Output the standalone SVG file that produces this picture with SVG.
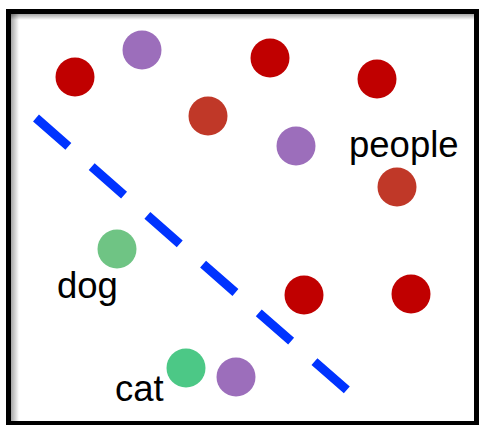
<svg xmlns="http://www.w3.org/2000/svg" width="479" height="425" viewBox="0 0 479 425">
<defs>
<style>
.red{fill:#C00000}
.purple{fill:#9C6EBB}
.brown{fill:#C03828}
.dog{fill:#6FC484}
.cat{fill:#4CC886}
.lbl{font-family:"Liberation Sans",Arial,sans-serif;font-size:36.5px;fill:#000}
</style>
<linearGradient id="shL" x1="0" y1="0" x2="1" y2="0">
<stop offset="0" stop-color="#000" stop-opacity="0.35"/>
<stop offset="1" stop-color="#000" stop-opacity="0"/>
</linearGradient>
<linearGradient id="shT" x1="0" y1="0" x2="0" y2="1">
<stop offset="0" stop-color="#000" stop-opacity="0.35"/>
<stop offset="1" stop-color="#000" stop-opacity="0"/>
</linearGradient>
</defs>
<rect x="0" y="0" width="479" height="425" fill="#fff"/>
<rect x="11" y="14" width="8" height="411" fill="url(#shL)"/>
<rect x="11" y="14" width="463" height="6" fill="url(#shT)"/>
<rect x="8.5" y="11.5" width="468" height="412" fill="none" stroke="#000" stroke-width="5"/>
<g id="connectors">
<line x1="36" y1="118" x2="348" y2="391" stroke="#0033FF" stroke-width="9" stroke-dasharray="43 31"/>
</g>
<g id="node-red1"><circle class="red" cx="75" cy="77" r="19.5"/></g>
<g id="node-purple1"><circle class="purple" cx="142" cy="50" r="19.5"/></g>
<g id="node-red2"><circle class="red" cx="270" cy="58" r="19.5"/></g>
<g id="node-red3"><circle class="red" cx="377" cy="79" r="19.5"/></g>
<g id="node-brown1"><circle class="brown" cx="208" cy="116" r="19.5"/></g>
<g id="node-purple2"><circle class="purple" cx="296" cy="146" r="19.5"/></g>
<g id="node-brown2"><circle class="brown" cx="397" cy="187" r="19.5"/></g>
<g id="node-dog"><circle class="dog" cx="117" cy="249" r="19.5"/></g>
<g id="node-red4"><circle class="red" cx="304" cy="295" r="19.5"/></g>
<g id="node-red5"><circle class="red" cx="411" cy="294" r="19.5"/></g>
<g id="node-cat"><circle class="cat" cx="186" cy="368" r="19.5"/></g>
<g id="node-purple3"><circle class="purple" cx="236" cy="377" r="19.5"/></g>
<g id="labels">
<text class="lbl" x="349" y="157">people</text>
<text class="lbl" x="57" y="298">dog</text>
<text class="lbl" x="115" y="401">cat</text>
</g>
</svg>
